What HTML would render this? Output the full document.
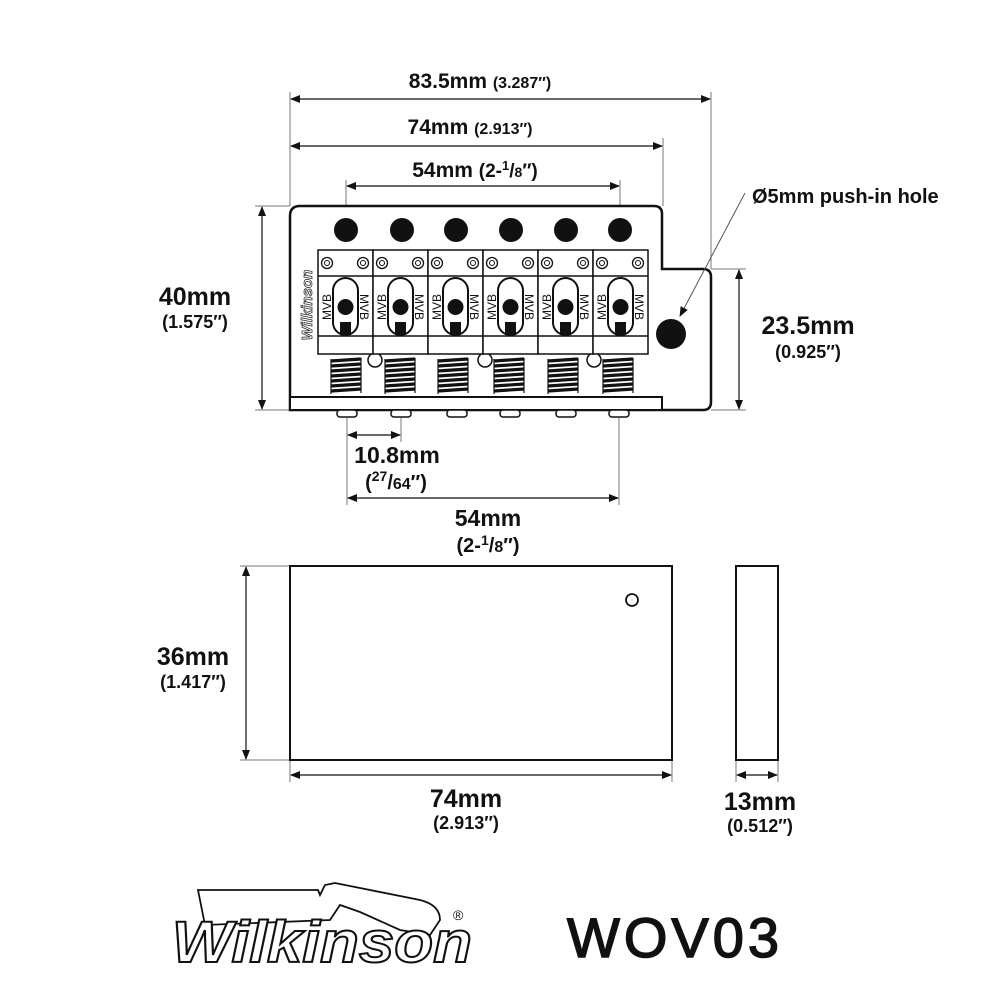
<!DOCTYPE html>
<html><head><meta charset="utf-8"><style>
html,body{margin:0;padding:0;background:#fff}
svg{display:block}
.d{font-family:"Liberation Sans",Arial,sans-serif;font-weight:bold;fill:#111}
</style></head><body>
<svg width="1000" height="1000" viewBox="0 0 1000 1000" xmlns="http://www.w3.org/2000/svg">
<defs>
<marker id="a" markerWidth="10" markerHeight="8" refX="9" refY="4" orient="auto-start-reverse" markerUnits="userSpaceOnUse"><path d="M0,0 L10,4 L0,8z" fill="#111"/></marker>
<g id="sad">
<rect x="0" y="0" width="55" height="104" fill="#fff" stroke="#111" stroke-width="1.5"/>
<line x1="0" y1="26" x2="55" y2="26" stroke="#111" stroke-width="1.5"/>
<line x1="0" y1="86" x2="55" y2="86" stroke="#111" stroke-width="1.5"/>
<circle cx="9" cy="13" r="5.5" fill="none" stroke="#111" stroke-width="1.3"/><circle cx="9" cy="13" r="2.5" fill="none" stroke="#111" stroke-width="1"/>
<circle cx="45" cy="13" r="5.5" fill="none" stroke="#111" stroke-width="1.3"/><circle cx="45" cy="13" r="2.5" fill="none" stroke="#111" stroke-width="1"/>
<rect x="15" y="28" width="25" height="57" rx="12.5" fill="#fff" stroke="#111" stroke-width="2"/>
<circle cx="27.5" cy="57" r="8" fill="#111"/>
<rect x="22" y="72" width="11" height="13" fill="#111"/>
</g>
<g id="spr" fill="none" stroke="#111">
<path stroke-width="3.2" d="M1,4 L31,2 M1,9 L31,7 M1,14 L31,12 M1,19 L31,17 M1,24 L31,22 M1,29 L31,27 M1,34 L31,32"/>
<path stroke-width="1.2" d="M1,2 L1,37 M31,1 L31,36"/>
</g>
</defs>
<g fill="none" stroke="#777" stroke-width="1">
<line x1="290" y1="92" x2="290" y2="206"/><line x1="711" y1="92" x2="711" y2="269"/>
<line x1="663" y1="138" x2="663" y2="206"/>
<line x1="346" y1="180" x2="346" y2="230"/><line x1="620" y1="180" x2="620" y2="230"/>
<line x1="255" y1="206" x2="290" y2="206"/><line x1="255" y1="410" x2="290" y2="410"/>
<line x1="711" y1="269" x2="746" y2="269"/><line x1="711" y1="410" x2="746" y2="410"/>
<line x1="347" y1="418" x2="347" y2="505"/><line x1="401" y1="418" x2="401" y2="442"/><line x1="619" y1="418" x2="619" y2="505"/>
<line x1="240" y1="566" x2="290" y2="566"/><line x1="240" y1="760" x2="290" y2="760"/>
<line x1="290" y1="760" x2="290" y2="782"/><line x1="672" y1="760" x2="672" y2="782"/>
<line x1="736" y1="760" x2="736" y2="782"/><line x1="778" y1="760" x2="778" y2="782"/>
</g>
<g stroke="#111" stroke-width="1.2" marker-start="url(#a)" marker-end="url(#a)">
<line x1="291" y1="99" x2="710" y2="99"/>
<line x1="291" y1="146" x2="662" y2="146"/>
<line x1="347" y1="186" x2="619" y2="186"/>
<line x1="262" y1="207" x2="262" y2="409"/>
<line x1="739" y1="270" x2="739" y2="409"/>
<line x1="348" y1="435" x2="400" y2="435"/>
<line x1="348" y1="498" x2="618" y2="498"/>
<line x1="246" y1="567" x2="246" y2="759"/>
<line x1="291" y1="775" x2="671" y2="775"/>
<line x1="737" y1="775" x2="777" y2="775"/>
</g>
<!-- main plate -->
<path d="M300,206 L654,206 Q662,206 662,214 L662,269 L703,269 Q711,269 711,277 L711,402 Q711,410 703,410 L290,410 L290,216 Q290,206 300,206Z" fill="#fff" stroke="#111" stroke-width="2.5"/>
<rect x="290" y="397" width="372" height="13" fill="#fff" stroke="#111" stroke-width="2"/>
<line x1="745" y1="193" x2="680" y2="316" stroke="#555" stroke-width="1" marker-end="url(#a)"/>
<g fill="#111"><circle cx="346" cy="230" r="12"/><circle cx="402" cy="230" r="12"/><circle cx="456" cy="230" r="12"/><circle cx="511" cy="230" r="12"/><circle cx="566" cy="230" r="12"/><circle cx="620" cy="230" r="12"/><circle cx="671" cy="334" r="15"/></g>
<text x="312" y="305" transform="rotate(-90 312 305)" text-anchor="middle" font-family="Liberation Sans" font-style="italic" font-weight="bold" font-size="15" fill="#fff" stroke="#333" stroke-width="0.8">Wilkinson</text>
<use href="#spr" x="330" y="357"/><use href="#spr" x="384" y="357"/><use href="#spr" x="437" y="357"/><use href="#spr" x="493" y="357"/><use href="#spr" x="547" y="357"/><use href="#spr" x="602" y="357"/>
<g fill="#fff" stroke="#111" stroke-width="1.5"><circle cx="375" cy="360" r="7"/><circle cx="485" cy="360" r="7"/><circle cx="594" cy="360" r="7"/></g>
<use href="#sad" x="318" y="250"/><use href="#sad" x="373" y="250"/><use href="#sad" x="428" y="250"/><use href="#sad" x="483" y="250"/><use href="#sad" x="538" y="250"/><use href="#sad" x="593" y="250"/>
<g font-family="Liberation Sans" font-size="12" fill="#111" text-anchor="middle">
<text transform="translate(331,307) rotate(-90)">MVB</text><text transform="translate(360,307) rotate(90)">MVB</text>
<text transform="translate(386,307) rotate(-90)">MVB</text><text transform="translate(415,307) rotate(90)">MVB</text>
<text transform="translate(441,307) rotate(-90)">MVB</text><text transform="translate(470,307) rotate(90)">MVB</text>
<text transform="translate(496,307) rotate(-90)">MVB</text><text transform="translate(525,307) rotate(90)">MVB</text>
<text transform="translate(551,307) rotate(-90)">MVB</text><text transform="translate(580,307) rotate(90)">MVB</text>
<text transform="translate(606,307) rotate(-90)">MVB</text><text transform="translate(635,307) rotate(90)">MVB</text>
</g>
<g fill="#fff" stroke="#111" stroke-width="1.5">
<rect x="337" y="410" width="20" height="7" rx="3"/><rect x="391" y="410" width="20" height="7" rx="3"/><rect x="447" y="410" width="20" height="7" rx="3"/><rect x="500" y="410" width="20" height="7" rx="3"/><rect x="556" y="410" width="20" height="7" rx="3"/><rect x="609" y="410" width="20" height="7" rx="3"/>
</g>
<!-- lower views -->
<rect x="290" y="566" width="382" height="194" fill="#fff" stroke="#111" stroke-width="2"/>
<circle cx="632" cy="600" r="6" fill="none" stroke="#111" stroke-width="1.8"/>
<rect x="736" y="566" width="42" height="194" fill="#fff" stroke="#111" stroke-width="2"/>
<!-- labels -->
<text class="d" x="480" y="88" text-anchor="middle" font-size="21">83.5mm <tspan font-size="16">(3.287″)</tspan></text>
<text class="d" x="470" y="134" text-anchor="middle" font-size="21">74mm <tspan font-size="16">(2.913″)</tspan></text>
<text class="d" x="475" y="177" text-anchor="middle" font-size="21">54mm <tspan font-size="19">(2-<tspan dy="-7" font-size="13">1</tspan><tspan dy="7">/</tspan><tspan font-size="14">8</tspan>″)</tspan></text>
<text class="d" x="195" y="305" text-anchor="middle" font-size="25">40mm</text>
<text class="d" x="195" y="328" text-anchor="middle" font-size="18">(1.575″)</text>
<text class="d" x="808" y="334" text-anchor="middle" font-size="25">23.5mm</text>
<text class="d" x="808" y="358" text-anchor="middle" font-size="18">(0.925″)</text>
<text class="d" x="752" y="203" font-size="20">Ø5mm push-in hole</text>
<text class="d" x="397" y="463" text-anchor="middle" font-size="23">10.8mm</text>
<text class="d" x="396" y="489" text-anchor="middle" font-size="20">(<tspan dy="-8" font-size="14">27</tspan><tspan dy="8">/</tspan><tspan font-size="16">64</tspan>″)</text>
<text class="d" x="488" y="526" text-anchor="middle" font-size="23">54mm</text>
<text class="d" x="488" y="552" text-anchor="middle" font-size="20">(2-<tspan dy="-7" font-size="14">1</tspan><tspan dy="7">/</tspan><tspan font-size="16">8</tspan>″)</text>
<text class="d" x="193" y="665" text-anchor="middle" font-size="25">36mm</text>
<text class="d" x="193" y="688" text-anchor="middle" font-size="18">(1.417″)</text>
<text class="d" x="466" y="807" text-anchor="middle" font-size="25">74mm</text>
<text class="d" x="466" y="829" text-anchor="middle" font-size="18">(2.913″)</text>
<text class="d" x="760" y="810" text-anchor="middle" font-size="25">13mm</text>
<text class="d" x="760" y="832" text-anchor="middle" font-size="18">(0.512″)</text>
<!-- logo -->
<path d="M198,890 L318,890 L320,895 L325,885 L335,883 L420,900 Q440,905 440,920 L430,935 L400,930 L360,912 L340,905 L330,920 L205,925 Z" fill="#fff" stroke="#111" stroke-width="1.8"/>
<text x="172" y="962" font-family="Liberation Sans" font-style="italic" font-weight="bold" font-size="58" fill="#fff" stroke="#111" stroke-width="2" textLength="300" lengthAdjust="spacingAndGlyphs">Wilkinson</text>
<text x="453" y="920" font-family="Liberation Sans" font-size="14" fill="#111">®</text>
<text x="567" y="957" font-family="Liberation Sans" font-size="56" fill="#111" stroke="#111" stroke-width="1.5" letter-spacing="4">WOV03</text>
</svg>
</body></html>
